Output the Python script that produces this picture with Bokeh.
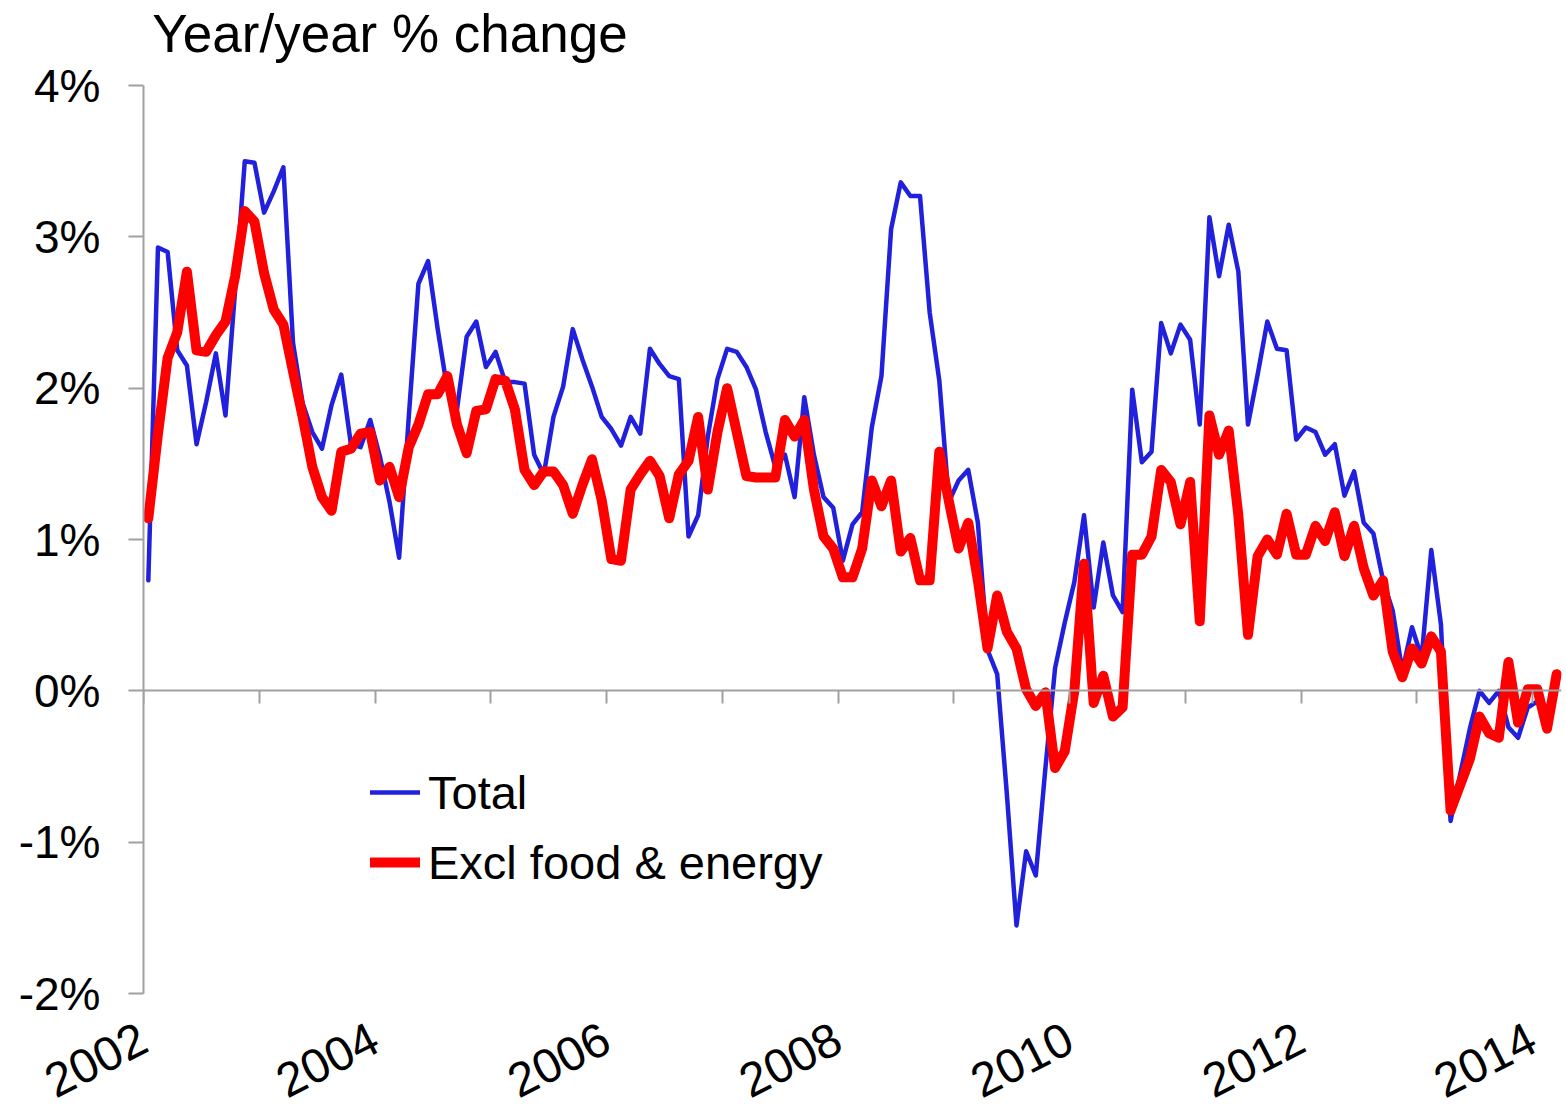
import math
from bokeh.plotting import figure
from bokeh.models import (LinearAxis, FixedTicker, PrintfTickFormatter, Legend,
                          LegendItem, Range1d, CustomJSTickFormatter)
from bokeh.embed import file_html
from bokeh.resources import INLINE

# ---------------- data (monthly, year/year % change, from Jan 2002) ----------------
start_year = 2002
title_text = "Year/year % change"
series_names = ["Total", "Excl food & energy"]
y_ticks = [-2, -1, 0, 1, 2, 3, 4]
x_label_years = [2002, 2004, 2006, 2008, 2010, 2012, 2014]
x_tick_years = list(range(2002, 2015))

total = [
    0.73, 2.93, 2.90, 2.25, 2.15, 1.63, 1.91, 2.23, 1.82, 2.65, 3.50, 3.49,
    3.16, 3.30, 3.46, 2.30, 1.90, 1.71, 1.60, 1.89, 2.09, 1.63, 1.61, 1.79,
    1.55, 1.25, 0.88, 1.81, 2.69, 2.84, 2.39, 1.99, 1.86, 2.34, 2.44, 2.14,
    2.24, 2.04, 2.04, 2.03, 1.56, 1.43, 1.81, 2.01, 2.39, 2.19, 2.01, 1.81,
    1.73, 1.62, 1.81, 1.70, 2.26, 2.16, 2.08, 2.06, 1.02, 1.16, 1.68, 2.06,
    2.26, 2.24, 2.14, 1.99, 1.71, 1.48, 1.56, 1.28, 1.94, 1.56, 1.28, 1.21,
    0.86, 1.10, 1.18, 1.74, 2.08, 3.05, 3.36, 3.27, 3.27, 2.50, 2.05, 1.25,
    1.39, 1.46, 1.11, 0.27, 0.11, -0.68, -1.55, -1.06, -1.22, -0.51, 0.15, 0.45,
    0.72, 1.16, 0.55, 0.98, 0.63, 0.52, 1.99, 1.51, 1.58, 2.43, 2.23, 2.42,
    2.32, 1.76, 3.13, 2.74, 3.08, 2.77, 1.76, 2.09, 2.44, 2.26, 2.25, 1.66,
    1.74, 1.71, 1.56, 1.63, 1.29, 1.45, 1.11, 1.04, 0.73, 0.53, 0.13, 0.42,
    0.22, 0.93, 0.44, -0.86, -0.55, -0.25, 0.00, -0.08, 0.00, -0.24, -0.31, -0.11,
    -0.07,
]

core = [
    1.14, 1.70, 2.20, 2.37, 2.77, 2.25, 2.24, 2.35, 2.44, 2.74, 3.17, 3.10,
    2.76, 2.52, 2.42, 2.11, 1.81, 1.48, 1.28, 1.19, 1.58, 1.60, 1.70, 1.71,
    1.39, 1.48, 1.28, 1.61, 1.76, 1.96, 1.96, 2.08, 1.76, 1.57, 1.85, 1.86,
    2.06, 2.05, 1.86, 1.46, 1.36, 1.45, 1.45, 1.36, 1.17, 1.36, 1.53, 1.26,
    0.87, 0.86, 1.33, 1.43, 1.52, 1.42, 1.14, 1.43, 1.52, 1.81, 1.33, 1.71,
    2.00, 1.71, 1.42, 1.41, 1.41, 1.41, 1.79, 1.68, 1.79, 1.33, 1.02, 0.94,
    0.75, 0.75, 0.94, 1.39, 1.22, 1.39, 0.92, 1.01, 0.73, 0.73, 1.58, 1.25,
    0.94, 1.11, 0.73, 0.28, 0.63, 0.39, 0.28, 0.01, -0.10, -0.01, -0.51, -0.40,
    0.00, 0.84, -0.08, 0.10, -0.17, -0.11, 0.90, 0.90, 1.02, 1.46, 1.38, 1.10,
    1.38, 0.46, 1.82, 1.56, 1.72, 1.16, 0.37, 0.89, 1.00, 0.90, 1.17, 0.90,
    0.90, 1.09, 0.99, 1.18, 0.89, 1.09, 0.81, 0.63, 0.73, 0.26, 0.09, 0.28,
    0.18, 0.36, 0.26, -0.79, -0.62, -0.45, -0.17, -0.28, -0.31, 0.19, -0.21, 0.01,
    0.01, -0.25, 0.11,
]

x_total = [start_year + (i + 0.5) / 12 for i in range(len(total))]
x_core = [start_year + (i + 0.5) / 12 for i in range(len(core))]

FONT = "Liberation Sans"
AXIS_GRAY = "#A0A0A0"

p = figure(width=1564, height=1117, title=None,
           x_range=Range1d(2002, 2014.25), y_range=Range1d(-2, 4),
           output_backend="svg", toolbar_location=None,
           min_border_left=143, min_border_right=3,
           min_border_top=85, min_border_bottom=124)
p.xgrid.visible = False
p.ygrid.visible = False
p.outline_line_color = None
p.background_fill_color = "white"
p.border_fill_color = "white"

# y axis
ya = p.yaxis[0]
ya.ticker = FixedTicker(ticks=y_ticks)
ya.formatter = PrintfTickFormatter(format="%d%%")
ya.axis_line_color = AXIS_GRAY
ya.axis_line_width = 2
ya.major_tick_line_color = AXIS_GRAY
ya.major_tick_line_width = 2
ya.major_tick_out = 15
ya.major_tick_in = 0
ya.minor_tick_line_color = None
ya.major_label_text_font = FONT
ya.major_label_text_font_size = "46px"
ya.major_label_text_color = "black"
ya.major_label_standoff = 28

# bottom labels axis (labels only)
xa = p.xaxis[0]
xa.ticker = FixedTicker(ticks=x_label_years)
xa.formatter = PrintfTickFormatter(format="%d")
xa.axis_line_color = None
xa.major_tick_line_color = None
xa.minor_tick_line_color = None
xa.major_tick_out = 0
xa.major_tick_in = 0
xa.major_label_orientation = math.radians(27)
xa.major_label_text_font = FONT
xa.major_label_text_font_size = "48px"
xa.major_label_text_color = "black"
xa.major_label_standoff = 42

# zero line axis with yearly ticks
za = LinearAxis(fixed_location=0, ticker=FixedTicker(ticks=x_tick_years),
                formatter=CustomJSTickFormatter(code="return ''"),
                axis_line_color=AXIS_GRAY, axis_line_width=2,
                major_tick_line_color=AXIS_GRAY, major_tick_line_width=2,
                major_tick_in=13, major_tick_out=0,
                minor_tick_line_color=None,
                major_label_text_font_size="1px")
p.add_layout(za, "above")

# chart heading, set in the top panel above the plot area
title_center_x = 2004.13
ta = LinearAxis(ticker=FixedTicker(ticks=[title_center_x]),
                formatter=CustomJSTickFormatter(args=dict(t=title_text), code="return t"),
                axis_line_color=None, major_tick_line_color=None,
                minor_tick_line_color=None, major_tick_out=0, major_tick_in=0,
                major_label_standoff=23, major_label_text_font=FONT,
                major_label_text_font_size="53px", major_label_text_color="black")
p.add_layout(ta, "above")

r_total = p.line(x_total, total, line_color="#2020DD", line_width=4.5,
                 line_join="round", line_cap="round")
r_core = p.line(x_core, core, line_color="#FF0000", line_width=10,
                line_join="round", line_cap="round")

legend = Legend(items=[LegendItem(label=series_names[0], renderers=[r_total]),
                       LegendItem(label=series_names[1], renderers=[r_core])],
                location=(227, 101), orientation="vertical",
                padding=0, margin=0, spacing=10,
                glyph_width=50, glyph_height=60, label_height=60,
                label_standoff=8, label_text_font=FONT,
                label_text_font_size="47px", label_text_color="black",
                border_line_color=None, background_fill_alpha=0)
p.add_layout(legend)

open("out.html", "w").write(file_html(p, INLINE))
